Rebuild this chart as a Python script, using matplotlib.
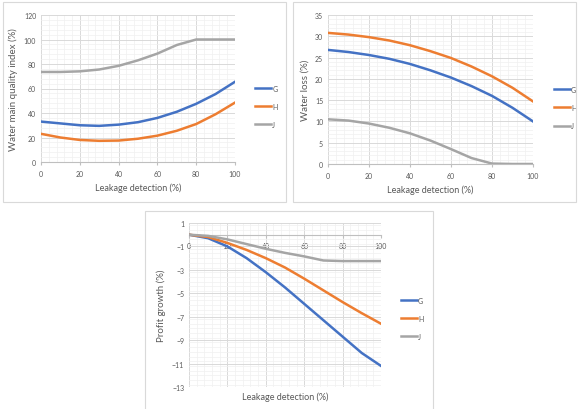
import numpy as np
import matplotlib
matplotlib.use("Agg")
import matplotlib.pyplot as plt
from matplotlib.patches import Rectangle
from matplotlib.ticker import MultipleLocator

plt.rcParams['font.family'] = ['Lato', 'DejaVu Sans']

# data
x = [0, 10, 20, 30, 40, 50, 60, 70, 80, 90, 100]
labels = ['G', 'H', 'J']

quality_g = [33, 31.5, 30, 29.5, 30.5, 32.5, 36, 41, 47.5, 55.5, 65.5]
quality_h = [23, 20, 18, 17.3, 17.5, 19, 21.5, 25.5, 31, 39, 48.5]
quality_j = [73.5, 73.5, 74, 75.5, 78.5, 83, 88.5, 95.5, 100, 100, 100]

loss_g = [26.8, 26.3, 25.6, 24.7, 23.5, 22, 20.3, 18.3, 16, 13.2, 10]
loss_h = [30.8, 30.4, 29.8, 29, 27.9, 26.5, 24.9, 22.9, 20.6, 17.9, 14.7]
loss_j = [10.5, 10.2, 9.5, 8.5, 7.2, 5.5, 3.5, 1.4, 0.1, 0, 0]

profit_g = [0, -0.3, -1.0, -2.0, -3.2, -4.5, -5.9, -7.3, -8.7, -10.1, -11.2]
profit_h = [0, -0.2, -0.7, -1.3, -2.0, -2.8, -3.75, -4.75, -5.75, -6.7, -7.6]
profit_j = [0, -0.1, -0.4, -0.8, -1.2, -1.55, -1.85, -2.2, -2.25, -2.25, -2.25]

colors = ['#4472C4', '#ED7D31', '#A5A5A5']
txt = '#595959'

W, H = 582, 410
fig = plt.figure(figsize=(W / 100, H / 100), dpi=100)


def px_axes(x0, y0, x1, y1):
    return fig.add_axes([x0 / W, 1 - y1 / H, (x1 - x0) / W, (y1 - y0) / H])


def frame(x0, y0, x1, y1):
    fig.patches.append(Rectangle((x0 / W, 1 - y1 / H), (x1 - x0) / W, (y1 - y0) / H,
                                 transform=fig.transFigure, fill=False,
                                 edgecolor='#d9d9d9', lw=0.8))


def panel(ax, series, ylim, ystep, ylabel, leg_y):
    for s, c, lab in zip(series, colors, labels):
        ax.plot(x, s, color=c, lw=1.8, label=lab, zorder=3, solid_joinstyle='round')
    ax.set_xlim(0, 100)
    ax.set_ylim(*ylim)
    ax.xaxis.set_major_locator(MultipleLocator(20))
    ax.xaxis.set_minor_locator(MultipleLocator(4))
    ax.yaxis.set_major_locator(MultipleLocator(ystep))
    ax.yaxis.set_minor_locator(MultipleLocator(ystep / 5))
    ax.grid(which='major', color='#d9d9d9', lw=0.7)
    ax.grid(which='minor', color='#f0f0f0', lw=0.5)
    ax.set_axisbelow(True)
    for sp in ['top', 'right', 'left']:
        ax.spines[sp].set_visible(False)
    ax.spines['bottom'].set_color('#bfbfbf')
    ax.tick_params(axis='both', which='both', labelsize=5, colors=txt, length=0)
    ax.tick_params(axis='x', which='major', length=2.5, color='#bfbfbf')
    ax.set_xlabel('Leakage detection (%)', fontsize=6.5, color=txt, labelpad=4)
    ax.set_ylabel(ylabel, fontsize=7, color=txt, labelpad=4)
    leg = ax.legend(loc='center left', bbox_to_anchor=(1.07, leg_y), frameon=False,
                    fontsize=5, handlelength=2.4, labelspacing=1.6, handletextpad=0.1)
    for t in leg.get_texts():
        t.set_color(txt)


frame(3, 3, 286, 203)
frame(293, 3, 576, 203)
frame(145, 212, 433, 412)

ax1 = px_axes(41, 16, 235, 163)
panel(ax1, [quality_g, quality_h, quality_j], (0, 120), 20,
      'Water main quality index (%)', 0.38)

ax2 = px_axes(328, 16, 533, 165)
panel(ax2, [loss_g, loss_h, loss_j], (0, 35), 5, 'Water loss (%)', 0.38)

ax3 = px_axes(189, 224, 381, 388)
panel(ax3, [profit_g, profit_h, profit_j], (-13, 1), 2, 'Profit growth (%)', 0.42)
ax3.set_yticks(np.arange(-13, 2, 2))
ax3.yaxis.set_minor_locator(MultipleLocator(0.4))
ax3.spines['bottom'].set_position(('data', 0))
ax3.xaxis.set_label_coords(0.5, -0.025)
ax3.tick_params(axis='x', which='major', labelsize=5, pad=3)

fig.savefig('out.png', dpi=100)
